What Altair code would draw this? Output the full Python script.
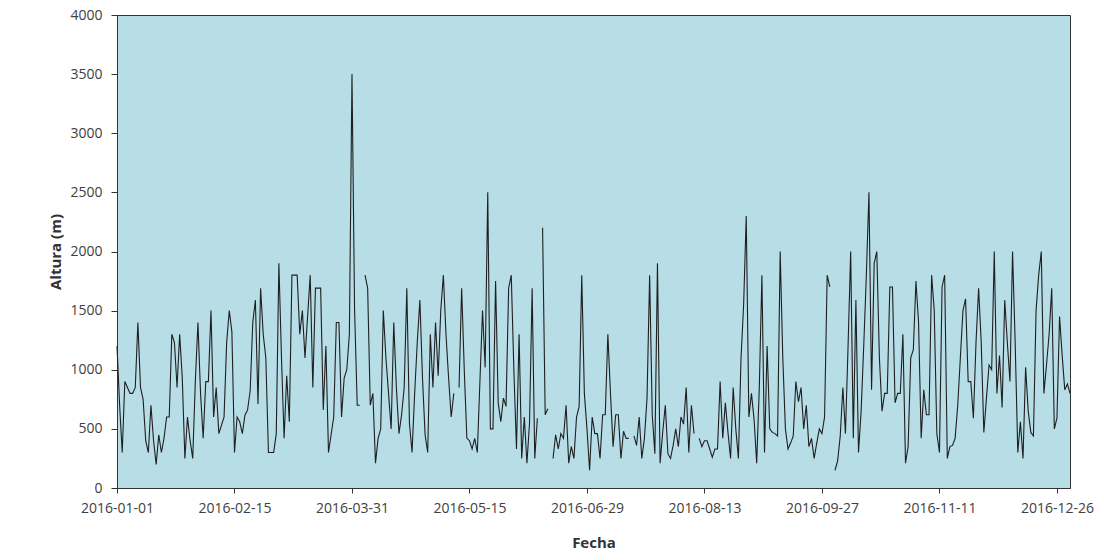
import altair as alt
import pandas as pd

# Daily heights (m) for 2016, index 0 = 2016-01-01; None marks missing days
altura = [
    1200, 700, 300, 900, 850, 800, 800, 850, 1400, 850,
    750, 400, 300, 700, 400, 200, 450, 300, 420, 600,
    600, 1300, 1230, 850, 1300, 930, 250, 600, 400, 250,
    900, 1400, 800, 420, 900, 900, 1500, 600, 850, 460,
    530, 600, 1230, 1500, 1320, 300, 600, 560, 460, 615,
    660, 820, 1400, 1590, 710, 1690, 1300, 1100, 300, 300,
    300, 460, 1900, 1100, 420, 950, 560, 1800, 1800, 1800,
    1300, 1500, 1100, 1450, 1800, 850, 1690, 1690, 1690, 660,
    1200, 300, 450, 600, 1400, 1400, 600, 930, 1000, 1300,
    3500, 1500, 700, 700, None, 1800, 1690, 700, 800, 210,
    420, 500, 1500, 1100, 800, 500, 1400, 850, 460, 620,
    850, 1690, 550, 300, 800, 1230, 1590, 930, 450, 300,
    1300, 850, 1400, 950, 1500, 1800, 1300, 930, 600, 800,
    None, 850, 1690, 1000, 420, 400, 330, 420, 300, 900,
    1500, 1020, 2500, 500, 500, 1750, 720, 560, 760, 690,
    1690, 1800, 1000, 330, 1300, 250, 600, 210, 550, 1690,
    250, 590, None, 2200, 620, 670, None, 250, 450, 330,
    460, 420, 700, 210, 350, 250, 600, 690, 1800, 800,
    500, 150, 600, 460, 460, 250, 620, 620, 1300, 800,
    350, 620, 620, 250, 480, 420, 420, None, 440, 360,
    600, 250, 420, 760, 1800, 620, 290, 1900, 210, 470,
    700, 290, 250, 360, 500, 350, 600, 540, 850, 300,
    700, 460, None, 420, 350, 400, 400, 330, 260, 330,
    330, 900, 420, 720, 470, 250, 850, 500, 250, 1100,
    1550, 2300, 600, 800, 580, 210, 850, 1800, 300, 1200,
    500, 470, 460, 440, 2000, 1100, 500, 330, 380, 440,
    900, 730, 850, 500, 700, 350, 420, 250, 380, 500,
    460, 600, 1800, 1700, None, 150, 230, 440, 850, 460,
    1200, 2000, 420, 1590, 300, 650, 1200, 1800, 2500, 830,
    1900, 2000, 1100, 650, 800, 800, 1700, 1700, 720, 800,
    800, 1300, 210, 350, 1100, 1170, 1750, 1400, 420, 830,
    620, 620, 1800, 1500, 460, 300, 1700, 1800, 250, 350,
    360, 420, 700, 1100, 1500, 1600, 900, 900, 590, 1230,
    1690, 1230, 470, 760, 1040, 1000, 2000, 800, 1120, 680,
    1590, 1230, 900, 2000, 1230, 300, 560, 250, 1020, 650,
    470, 440, 1500, 1800, 2000, 800, 1040, 1300, 1690, 500,
    590, 1450, 1120, 830, 880, 800,
]

fechas = [d.strftime("%Y-%m-%d") for d in pd.date_range("2016-01-01", periods=len(altura), freq="D")]

tick_fechas = ["2016-01-01", "2016-02-15", "2016-03-31", "2016-05-15", "2016-06-29",
               "2016-08-13", "2016-09-27", "2016-11-11", "2016-12-26"]
y_ticks = [0, 500, 1000, 1500, 2000, 2500, 3000, 3500, 4000]

# split into continuous segments so that missing days break the line
rows = []
tramo = 0
for f, a in zip(fechas, altura):
    if a is None:
        tramo += 1
        continue
    rows.append({"fecha": f, "altura": a, "tramo": tramo})
df = pd.DataFrame(rows)


def dt(s):
    y, m, d = (int(p) for p in s.split("-"))
    return alt.DateTime(year=y, month=m, date=d, utc=True)


font = "Open Sans"

chart = alt.Chart(df).mark_line(color="#1f1f1f", strokeWidth=1.1).encode(
    x=alt.X(
        "fecha:T",
        scale=alt.Scale(type="utc", domain=[dt("2016-01-01"), dt("2016-12-31")]),
        axis=alt.Axis(
            title="Fecha",
            values=[dt(s) for s in tick_fechas],
            labelExpr="utcFormat(datum.value, '%Y-%m-%d')",
            grid=False,
            labelFlush=False,
            labelOverlap=False,
            tickSize=5,
            labelPadding=8,
            titlePadding=20,
        ),
    ),
    y=alt.Y(
        "altura:Q",
        scale=alt.Scale(domain=[0, 4000], nice=False),
        axis=alt.Axis(
            title="Altura (m)",
            values=y_ticks,
            format="d",
            grid=False,
            tickSize=6,
            labelPadding=9,
            titlePadding=6,
        ),
    ),
    detail="tramo:N",
).properties(
    width=953,
    height=473,
    background="white",
    autosize=alt.AutoSizeParams(type="none"),
    padding={"left": 117, "top": 15, "right": 34, "bottom": 72},
).configure_view(
    fill="#b7dde7",
    stroke="#333333",
    strokeWidth=1,
).configure_axis(
    labelFont=font,
    labelFontSize=14,
    labelColor="#404040",
    titleFont=font,
    titleFontSize=15,
    titleFontWeight="bold",
    titleColor="#333333",
    domainColor="#333333",
    tickColor="#333333",
)

chart.save("out.html", embed_options={"renderer": "svg", "actions": False})
